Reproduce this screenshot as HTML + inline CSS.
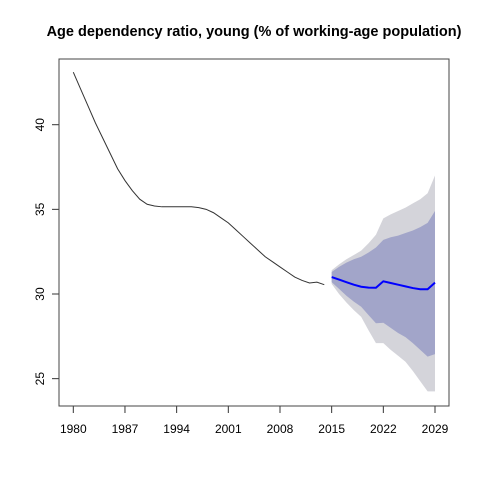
<!DOCTYPE html>
<html><head><meta charset="utf-8"><style>
body{margin:0;background:#fff}
svg{display:block;font-family:"Liberation Sans",Arial,sans-serif}
</style></head><body>
<svg id="chart" width="480" height="480">
<text x="254" y="36" text-anchor="middle" font-size="14.5" font-weight="bold">Age dependency ratio, young (% of working-age population)</text>
<g id="plot"></g>
<rect x="59" y="59" width="390" height="347" fill="none" stroke="#444" stroke-width="1"/>
</svg>
<script>
const histYears=[];for(let y=1980;y<=2014;y++)histYears.push(y);
const histValues=[43.1,42.1,41.1,40.1,39.2,38.3,37.4,36.7,36.1,35.6,35.3,35.2,35.15,35.15,35.15,35.15,35.15,35.1,35.0,34.8,34.5,34.2,33.8,33.4,33.0,32.6,32.2,31.9,31.6,31.3,31.0,30.8,30.65,30.7,30.55];
const fcYears=[];for(let y=2015;y<=2029;y++)fcYears.push(y);
const fcMean=[31.0,30.85,30.7,30.55,30.43,30.38,30.37,30.75,30.65,30.55,30.45,30.35,30.28,30.28,30.67];
const fcUpper80=[31.3,31.6,31.85,32.05,32.2,32.45,32.75,33.2,33.35,33.45,33.6,33.75,33.95,34.2,34.9];
const fcLower80=[30.7,30.3,29.9,29.55,29.25,28.75,28.27,28.3,28.0,27.7,27.45,27.1,26.7,26.3,26.45];
const fcUpper95=[31.4,31.75,32.05,32.3,32.56,33.0,33.5,34.47,34.7,34.9,35.1,35.35,35.6,35.95,37.0];
const fcLower95=[30.6,30.0,29.5,29.05,28.65,27.85,27.1,27.1,26.7,26.35,26.0,25.45,24.85,24.25,24.25];
const xTicks=[1980,1987,1994,2001,2008,2015,2022,2029];
const yTicks=[25,30,35,40];

const xS=y=>73.3+(y-1980)*(361.7/49);
const yS=v=>294-(v-30)*16.93;
const NS="http://www.w3.org/2000/svg";
const g=document.getElementById('plot');
function mk(t,a){const e=document.createElementNS(NS,t);for(const k in a)e.setAttribute(k,a[k]);g.appendChild(e);return e;}
function band(up,lo,fill,name){
  let pts=fcYears.map((y,i)=>xS(y)+','+yS(up[i]));
  pts=pts.concat(fcYears.map((y,i)=>xS(y)+','+yS(lo[i])).reverse());
  const p=mk('polygon',{points:pts.join(' '),fill:fill});
  
  
}
band(fcUpper95,fcLower95,'#d4d4da','band-95');
band(fcUpper80,fcLower80,'#a2a5c9','band-80');
const h=mk('polyline',{points:histYears.map((y,i)=>xS(y)+','+yS(histValues[i])).join(' '),fill:'none',stroke:'#333','stroke-width':1});


const m=mk('polyline',{points:fcYears.map((y,i)=>xS(y)+','+yS(fcMean[i])).join(' '),fill:'none',stroke:'#0000ff','stroke-width':2});


const xa=mk('line',{x1:xS(1980),x2:xS(2029),y1:406,y2:406,stroke:'#333'});


xTicks.forEach(t=>{
  mk('line',{x1:xS(t),x2:xS(t),y1:406,y2:413,stroke:'#333'});
  const tx=mk('text',{x:xS(t),y:433,'text-anchor':'middle','font-size':12});
  tx.textContent=t;
  
  
});
const ya=mk('line',{x1:59,x2:59,y1:yS(25),y2:yS(40),stroke:'#333'});


yTicks.forEach(t=>{
  mk('line',{x1:52,x2:59,y1:yS(t),y2:yS(t),stroke:'#333'});
  const tx=mk('text',{x:44,y:yS(t),'text-anchor':'middle','font-size':12,transform:`rotate(-90 44 ${yS(t)})`});
  tx.textContent=t;
  
  
});
</script>
</body></html>
